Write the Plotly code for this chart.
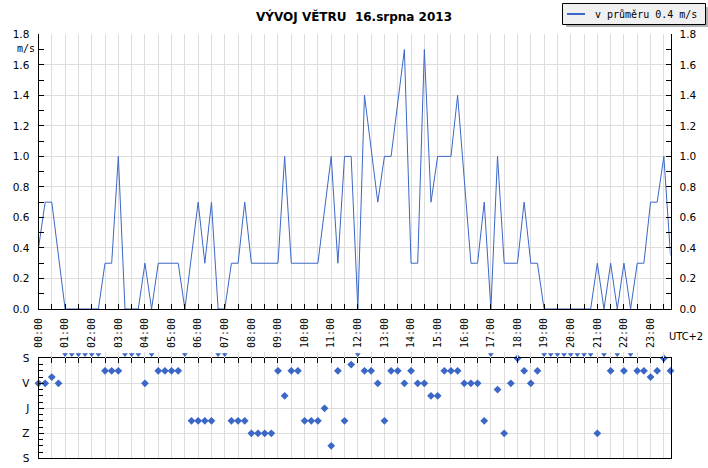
import pandas as pd
import plotly.graph_objects as go

W, H = 708, 468
BLUE = "#3b67c6"
GRID = "#dddddd"

title_text = "VÝVOJ VĚTRU\u00a0\u00a016.srpna 2013"
legend_label = "v průměru 0.4 m/s"
unit_label = "m/s"
tz_label = "UTC+2"
dir_tickvals = [0, 90, 180, 270, 360]
dir_ticktext = ["S", "V", "J", "Z", "S"]

# 15-minute measurement times for 16 Aug 2013
times = pd.date_range("2013-08-16 00:00", periods=96, freq="15min")

# mean wind speed, m/s
speed = [
    0.4, 0.7, 0.7, 0.35, 0, 0, 0, 0, 0, 0, 0.3, 0.3,
    1.0, 0, 0, 0, 0.3, 0, 0.3, 0.3, 0.3, 0.3, 0, 0.35,
    0.7, 0.3, 0.7, 0, 0, 0.3, 0.3, 0.7, 0.3, 0.3, 0.3, 0.3,
    0.3, 1.0, 0.3, 0.3, 0.3, 0.3, 0.3, 0.65, 1.0, 0.3, 1.0, 1.0,
    0, 1.4, 1.05, 0.7, 1.0, 1.0, 1.35, 1.7, 0.3, 0.3, 1.7, 0.7,
    1.0, 1.0, 1.0, 1.4, 0.85, 0.3, 0.3, 0.7, 0, 1.0, 0.3, 0.3,
    0.3, 0.7, 0.3, 0.3, 0, 0, 0, 0, 0, 0, 0, 0,
    0.3, 0, 0.3, 0, 0.3, 0, 0.3, 0.3, 0.7, 0.7, 1.0, 0.35,
]

# wind direction in degrees (None = calm)
direction = [
    90, 90, 67.5, 90, None, None, None, None, None, None, 45, 45,
    45, None, None, None, 90, None, 45, 45, 45, 45, None, 225,
    225, 225, 225, None, None, 225, 225, 225, 270, 270, 270, 270,
    45, 135, 45, 45, 225, 225, 225, 180, 315, 45, 225, 22.5,
    None, 45, 45, 90, 225, 45, 45, 90, 45, 90, 90, 135,
    135, 45, 45, 45, 90, 90, 90, 225, None, 112.5, 270, 90,
    0, 45, 90, 45, None, None, None, None, None, None, None, None,
    270, None, 45, None, 45, None, 45, 45, 67.5, 45, 0, 45,
]

calm_times = [t for t, d in zip(times, direction) if d is None]

x_dom = [38.5 / W, 670.5 / W]
y_top_dom = [1 - 309 / H, 1 - 34.3 / H]
y_bot_dom = [1 - 458.3 / H, 1 - 358.3 / H]
y_calm_dom = [1 - 357.5 / H, 1 - 351.5 / H]
x_range = [times[0], times[-1]]


def px(x):
    return x / W


def py(y):
    return 1 - y / H


fig = go.Figure()
fig.add_trace(go.Scatter(
    x=times, y=speed, mode="lines", name=legend_label, showlegend=False,
    line=dict(color=BLUE, width=1), xaxis="x", yaxis="y", hoverinfo="x+y"))
fig.add_trace(go.Scatter(
    x=times, y=speed, mode="lines", showlegend=False, opacity=0,
    line=dict(width=0), xaxis="x", yaxis="y2", hoverinfo="skip"))
fig.add_trace(go.Scatter(
    x=times, y=direction, mode="markers", showlegend=False,
    marker=dict(symbol="diamond", size=6, color=BLUE),
    xaxis="x2", yaxis="y3", cliponaxis=False))
fig.add_trace(go.Scatter(
    x=calm_times, y=[0] * len(calm_times), mode="markers", showlegend=False,
    marker=dict(symbol="triangle-down", size=5, color=BLUE),
    xaxis="x2", yaxis="y4", cliponaxis=False))

tick_common = dict(ticks="inside", ticklen=5, tickcolor="black", tickwidth=1,
                   showline=True, linecolor="black", linewidth=1, zeroline=False)

fig.update_layout(
    width=W, height=H, autosize=False,
    margin=dict(l=0, r=0, t=0, b=0, pad=0, autoexpand=False),
    paper_bgcolor="white", plot_bgcolor="white",
    title=dict(text=title_text, x=0.5, xanchor="center", y=py(17), yanchor="middle",
               font=dict(family="DejaVu Sans", size=12, color="black", weight="bold")),
    showlegend=False,
    xaxis=dict(type="date", domain=x_dom, range=x_range, anchor="y",
               tickformat="%H:%M", dtick=3600000, tick0=times[0], tickangle=-90,
               tickfont=dict(family="DejaVu Sans Mono", size=10, color="black"),
               ticklabelstandoff=4,
               showgrid=True, gridcolor=GRID, gridwidth=1,
               minor=dict(dtick=1800000, tick0=times[0], ticks="inside", ticklen=5,
                          tickcolor="black", showgrid=True, gridcolor=GRID),
               **tick_common),
    yaxis=dict(domain=y_top_dom, range=[0, 1.8], anchor="x", dtick=0.2, tick0=0,
               tickformat=".1f", showgrid=True, gridcolor=GRID,
               tickfont=dict(family="DejaVu Sans", size=10.5, color="black"),
               ticklabelstandoff=6,
               minor=dict(dtick=0.1, tick0=0, ticks="inside", ticklen=5, tickcolor="black"),
               **tick_common),
    yaxis2=dict(overlaying="y", side="right", range=[0, 1.8], anchor="x", dtick=0.2, tick0=0,
                tickformat=".1f", showgrid=False,
                tickfont=dict(family="DejaVu Sans", size=10.5, color="black"),
                ticklabelstandoff=6,
                minor=dict(dtick=0.1, tick0=0, ticks="inside", ticklen=5, tickcolor="black"),
                **tick_common),
    xaxis2=dict(type="date", domain=x_dom, range=x_range, anchor="y3", side="top",
                dtick=3600000, tick0=times[0], showticklabels=False, mirror=True,
                showgrid=True, gridcolor=GRID,
                minor=dict(dtick=1800000, tick0=times[0], ticks="inside", ticklen=5,
                           tickcolor="black", showgrid=True, gridcolor=GRID),
                **tick_common),
    yaxis3=dict(domain=y_bot_dom, range=[360, 0], anchor="x2",
                tickvals=dir_tickvals, ticktext=dir_ticktext, mirror=True,
                showgrid=True, gridcolor=GRID,
                tickfont=dict(family="DejaVu Sans", size=10.5, color="black"),
                ticklabelstandoff=6,
                minor=dict(dtick=22.5, tick0=0, ticks="inside", ticklen=4, tickcolor="black"),
                **tick_common),
    yaxis4=dict(domain=y_calm_dom, range=[-1, 1], anchor="x2", visible=False,
                showgrid=False, zeroline=False),
    annotations=[
        dict(text=unit_label, x=px(26), y=py(49), xref="paper", yref="paper",
             showarrow=False, xanchor="center", yanchor="middle",
             font=dict(family="DejaVu Sans Mono", size=10, color="black")),
        dict(text=tz_label, x=px(686), y=py(336), xref="paper", yref="paper",
             showarrow=False, xanchor="center", yanchor="middle",
             font=dict(family="DejaVu Sans Condensed, Liberation Sans Narrow, Liberation Sans",
                       size=11, color="black")),
        # legend text
        dict(text=legend_label, x=px(593), y=py(14), xref="paper", yref="paper",
             showarrow=False, xanchor="left", yanchor="middle",
             font=dict(family="DejaVu Sans Mono", size=10, color="black")),
    ],
    shapes=[
        # legend shadow, box and line sample
        dict(type="rect", xref="paper", yref="paper",
             x0=px(566), x1=1.0, y0=py(27), y1=py(7),
             fillcolor="#b4b4b4", line=dict(width=0), layer="above"),
        dict(type="rect", xref="paper", yref="paper",
             x0=px(562.5), x1=px(705.5), y0=py(24.5), y1=py(3.5),
             fillcolor="#f0f0f0", line=dict(color="black", width=1), layer="above"),
        dict(type="line", xref="paper", yref="paper",
             x0=px(567), x1=px(585), y0=py(14), y1=py(14),
             line=dict(color=BLUE, width=2), layer="above"),
    ],
)

fig.write_html("out.html",
               config={"displayModeBar": False},
               post_script="document.body.style.margin='0';document.body.style.overflow='hidden';")
